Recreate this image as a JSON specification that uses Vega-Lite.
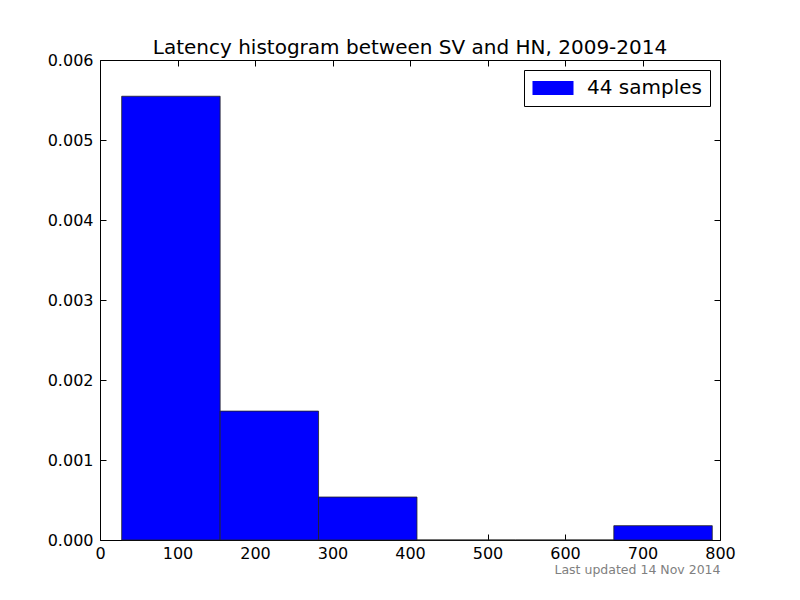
{
  "$schema": "https://vega.github.io/schema/vega-lite/v6.json",
  "width": 620,
  "height": 480,
  "autosize": "none",
  "padding": {"left": 100, "top": 60, "right": 80, "bottom": 60},
  "background": "white",
  "title": {"text": "Latency histogram between SV and HN, 2009-2014", "font": "DejaVu Sans", "fontSize": 20, "fontWeight": "normal", "color": "black", "anchor": "middle", "offset": -6},
  "config": {
    "view": {"stroke": null},
    "font": "DejaVu Sans",
    "axis": {"grid": false, "domainColor": "black", "tickColor": "black", "labelColor": "black", "labelFont": "DejaVu Sans", "labelFontSize": 16, "tickSize": -6, "domainWidth": 1, "tickWidth": 1, "labelFlush": false}
  },
  "data": {"values": [
    {"bin_start": 28, "bin_end": 155, "density": 0.005547, "series": "44 samples"},
    {"bin_start": 155, "bin_end": 282, "density": 0.001611, "series": "44 samples"},
    {"bin_start": 282, "bin_end": 409, "density": 0.000537, "series": "44 samples"},
    {"bin_start": 409, "bin_end": 536, "density": 0, "series": "44 samples"},
    {"bin_start": 536, "bin_end": 663, "density": 0, "series": "44 samples"},
    {"bin_start": 663, "bin_end": 790, "density": 0.000179, "series": "44 samples"}
  ]},
  "layer": [
    {
      "mark": {"type": "bar", "stroke": "#222222", "strokeWidth": 0.8},
      "encoding": {
        "x": {"field": "bin_start", "type": "quantitative", "scale": {"domain": [0, 800], "nice": false, "zero": false},
          "axis": {"orient": "bottom", "values": [0,100,200,300,400,500,600,700,800], "labelPadding": 11, "title": "Last updated 14 Nov 2014", "titleAnchor": "end", "titleColor": "#808080", "titleFontSize": 12.5, "titleFontWeight": "normal", "titlePadding": 2}},
        "x2": {"field": "bin_end"},
        "y": {"field": "density", "type": "quantitative", "scale": {"domain": [0, 0.006], "nice": false},
          "axis": {"orient": "left", "values": [0,0.001,0.002,0.003,0.004,0.005,0.006], "format": ".3f", "labelPadding": 13, "title": null}},
        "y2": {"datum": 0},
        "color": {"field": "series", "type": "nominal", "scale": {"range": ["#0000ff"]},
          "legend": {"title": null, "orient": "top-right", "offset": 10, "fillColor": "white", "strokeColor": "black", "padding": 8, "labelFontSize": 20, "labelFont": "DejaVu Sans", "labelColor": "black", "labelOffset": 24, "symbolType": "M-2.93,-1H2.93V1H-2.93Z", "symbolSize": 196, "symbolOffset": 11, "symbolStrokeWidth": 0, "symbolOpacity": 1, "cornerRadius": 0}}
      }
    },
    {
      "mark": {"type": "bar", "opacity": 0},
      "encoding": {
        "x": {"field": "bin_start", "type": "quantitative", "axis": {"orient": "top", "values": [0,100,200,300,400,500,600,700,800], "labels": false, "title": null}},
        "x2": {"field": "bin_end"},
        "y": {"field": "density", "type": "quantitative", "axis": {"orient": "right", "values": [0,0.001,0.002,0.003,0.004,0.005,0.006], "labels": false, "title": null}},
        "y2": {"datum": 0}
      }
    }
  ],
  "resolve": {"axis": {"x": "independent", "y": "independent"}}
}
